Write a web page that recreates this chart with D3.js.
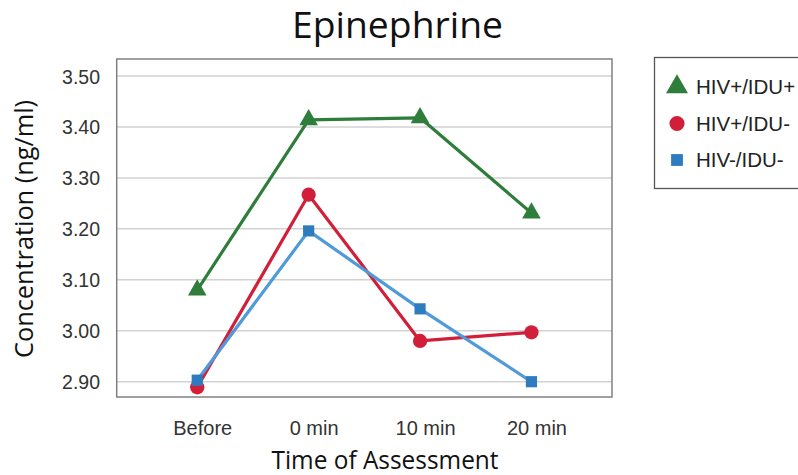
<!DOCTYPE html>
<html><head><meta charset="utf-8">
<script src="https://cdn.jsdelivr.net/npm/d3@7"></script>
<style>body{margin:0;background:#fff}svg{display:block}</style>
</head><body>
<svg id="c" width="798" height="475"></svg>
<script>
const categories = ["Before", "0 min", "10 min", "20 min"];
const seriesNames = ["HIV+/IDU+", "HIV+/IDU-", "HIV-/IDU-"];
const hivPosIduPos = [3.080, 3.414, 3.418, 3.231];
const hivPosIduNeg = [2.889, 3.267, 2.980, 2.997];
const hivNegIduNeg = [2.903, 3.196, 3.043, 2.900];
const yTicks = [2.90, 3.00, 3.10, 3.20, 3.30, 3.40, 3.50];

const series = [
  {name: seriesNames[0], values: hivPosIduPos, line: "#2e7d3b", fill: "#2e7d3b", shape: d3.symbolTriangle, size: 150, lsize: 210},
  {name: seriesNames[1], values: hivPosIduNeg, line: "#d11f3a", fill: "#d11f3a", shape: d3.symbolCircle, size: 160, lsize: 180},
  {name: seriesNames[2], values: hivNegIduNeg, line: "#4f9bd9", fill: "#2d7cc0", shape: d3.symbolSquare, size: 125, lsize: 140}
];

const svg = d3.select("#c");
const L = 116.7, R = 612, T = 59, B = 397;
const x = d3.scalePoint().domain(categories).range([L, R]).padding(0.723);
const y = d3.scaleLinear().domain([2.870, 3.5334]).range([B, T]);

// gridlines
svg.append("g").selectAll("line").data(yTicks).join("line")
  .attr("x1", L).attr("x2", R)
  .attr("y1", d => y(d)).attr("y2", d => y(d))
  .attr("stroke", "#d2d2d2").attr("stroke-width", 1.5);

// plot border
svg.append("rect").attr("x", L).attr("y", T).attr("width", R - L).attr("height", B - T)
  .attr("fill", "none").attr("stroke", "#808080").attr("stroke-width", 1.5);

// y axis labels
const yAxis = d3.axisLeft(y).tickValues(yTicks).tickFormat(d3.format(".2f")).tickSize(0).tickPadding(0);
const yg = svg.append("g").attr("transform", "translate(100,0)").call(yAxis);
yg.select(".domain").remove();
yg.selectAll("text").attr("font-family", "Liberation Sans, Arial, sans-serif")
  .attr("font-size", 19.5).attr("fill", "#333").attr("dy", "0.36em");

// x axis labels
const xAxis = d3.axisBottom(x).tickSize(0).tickPadding(0);
const xg = svg.append("g").attr("transform", "translate(5,421)").call(xAxis);
xg.select(".domain").remove();
xg.selectAll("text").attr("font-family", "Liberation Sans, Arial, sans-serif")
  .attr("font-size", 20).attr("fill", "#333").attr("dy", "0.72em");

// lines and markers
const line = d3.line().x((d, i) => x(categories[i])).y(d => y(d));
series.forEach(s => {
  svg.append("path").datum(s.values).attr("d", line)
    .attr("fill", "none").attr("stroke", s.line).attr("stroke-width", 3.2).attr("stroke-linejoin", "round");
  svg.append("g").selectAll("path").data(s.values).join("path")
    .attr("transform", (d, i) => `translate(${x(categories[i])},${y(d)})`)
    .attr("d", d3.symbol().type(s.shape).size(s.size))
    .attr("fill", s.fill);
});

// title
svg.append("text").attr("x", 397.5).attr("y", 38.3).attr("text-anchor", "middle")
  .attr("font-family", "Open Sans, Noto Sans, sans-serif").attr("font-size", 36).attr("fill", "#111")
  .attr("textLength", 211).attr("lengthAdjust", "spacingAndGlyphs").text("Epinephrine");

// x title
svg.append("text").attr("x", 385).attr("y", 469).attr("text-anchor", "middle")
  .attr("font-family", "Open Sans, Noto Sans, sans-serif").attr("font-size", 25).attr("fill", "#111")
  .attr("textLength", 227).attr("lengthAdjust", "spacingAndGlyphs").text("Time of Assessment");

// y title
svg.append("text").attr("transform", "translate(33,229) rotate(-90)").attr("text-anchor", "middle")
  .attr("font-family", "Open Sans, Noto Sans, sans-serif").attr("font-size", 25).attr("fill", "#111")
  .attr("textLength", 258).attr("lengthAdjust", "spacingAndGlyphs").text("Concentration (ng/ml)");

// legend
svg.append("rect").attr("x", 654.5).attr("y", 57.5).attr("width", 200).attr("height", 131)
  .attr("fill", "#fff").attr("stroke", "#555").attr("stroke-width", 1.3);
const ly = [87, 123.5, 160];
series.forEach((s, i) => {
  svg.append("path").attr("transform", `translate(677,${ly[i]})`)
    .attr("d", d3.symbol().type(s.shape).size(s.lsize)).attr("fill", s.fill);
  svg.append("text").attr("x", 696).attr("y", ly[i]).attr("dy", "0.36em")
    .attr("font-family", "Liberation Sans, Arial, sans-serif").attr("font-size", 20.5).attr("fill", "#222")
    .text(s.name);
});
</script>
</body></html>
